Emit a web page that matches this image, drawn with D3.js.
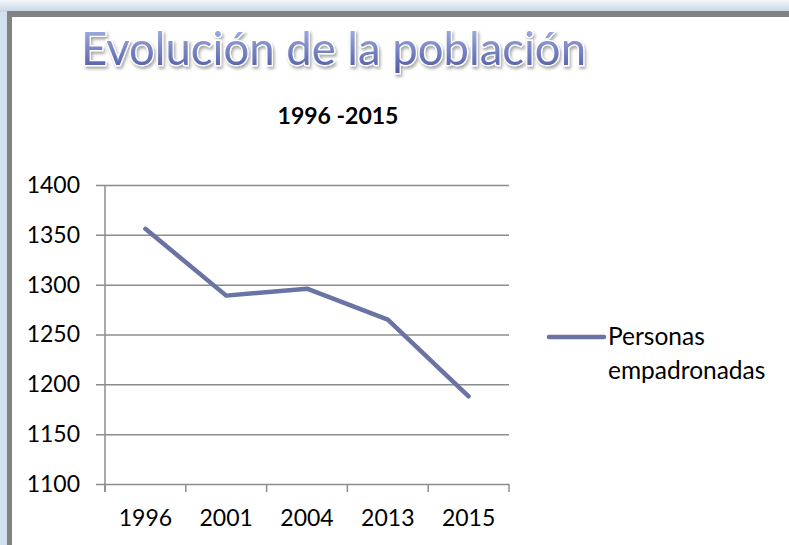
<!DOCTYPE html>
<html>
<head>
<meta charset="utf-8">
<script src="https://cdn.jsdelivr.net/npm/d3@7"></script>
<style>
  body { margin: 0; background: #fff; }
  svg { display: block; }
</style>
</head>
<body>
<div id="container"></div>
<script>
// data
var years = ["1996", "2001", "2004", "2013", "2015"];
var personas = [1356, 1289, 1296, 1265, 1188];
var yTicks = [1100, 1150, 1200, 1250, 1300, 1350, 1400];
var seriesName = ["Personas", "empadronadas"];

var width = 789, height = 545;
var plot = {left: 105, right: 509, top: 185, bottom: 484};
var lineColor = "#6973a4";
var gridColor = "#8c8c8c";
var font = "Lato, 'Open Sans', sans-serif";

var svg = d3.select("div#container")
  .append("svg")
  .attr("width", width)
  .attr("height", height);

var defs = svg.append("defs");

// background outside the frame
var bg = defs.append("linearGradient").attr("id", "bgGrad")
  .attr("x1", 0).attr("y1", 0).attr("x2", 0).attr("y2", 1);
bg.append("stop").attr("offset", "0%").attr("stop-color", "#f3f6f9");
bg.append("stop").attr("offset", "100%").attr("stop-color", "#c6d5e6");

svg.append("rect").attr("x", 0).attr("y", 0).attr("width", width).attr("height", 12)
  .attr("fill", "url(#bgGrad)");
svg.append("rect").attr("x", 0).attr("y", 12).attr("width", 7).attr("height", height - 12)
  .attr("fill", "#d3e0ee");

// frame
svg.append("rect").attr("x", 7).attr("y", 11).attr("width", width - 7).attr("height", 6)
  .attr("fill", "#828282");
svg.append("rect").attr("x", 7).attr("y", 11).attr("width", 5).attr("height", height - 11)
  .attr("fill", "#828282");

// title with gradient + glow
var tg = defs.append("linearGradient").attr("id", "titleGrad")
  .attr("x1", 0).attr("y1", 0).attr("x2", 0).attr("y2", 1);
tg.append("stop").attr("offset", "0%").attr("stop-color", "#b0bdec");
tg.append("stop").attr("offset", "100%").attr("stop-color", "#4a559f");

var sh = defs.append("filter").attr("id", "shadow")
  .attr("x", "-5%").attr("y", "-20%").attr("width", "110%").attr("height", "150%");
sh.append("feDropShadow").attr("dx", 1.5).attr("dy", 2.5).attr("stdDeviation", 1.5)
  .attr("flood-color", "#000").attr("flood-opacity", 0.35);

svg.append("text")
  .attr("x", 81).attr("y", 65)
  .attr("textLength", 505).attr("lengthAdjust", "spacingAndGlyphs")
  .style("font-family", font).style("font-size", "46px")
  .style("fill", "url(#titleGrad)")
  .style("stroke", "#fff").style("stroke-width", 2.5).style("paint-order", "stroke")
  .attr("filter", "url(#shadow)")
  .text("Evolución de la población");

// subtitle
svg.append("text")
  .attr("x", 338).attr("y", 124)
  .attr("text-anchor", "middle")
  .style("font-family", font).style("font-size", "23px").style("font-weight", "bold")
  .style("fill", "#000")
  .text("1996 -2015");

// scales
var x = d3.scaleBand().domain(years).range([plot.left, plot.right]).padding(0);
var y = d3.scaleLinear().domain([1100, 1400]).range([plot.bottom, plot.top]);

// gridlines + y ticks
var yAxis = svg.append("g")
  .attr("transform", "translate(" + plot.left + ",0)")
  .call(d3.axisLeft(y).tickValues(yTicks).tickSize(-(plot.right - plot.left)).tickSizeOuter(0).tickFormat(d3.format("d")));
yAxis.select(".domain").remove();
yAxis.selectAll(".tick line").attr("stroke", gridColor).attr("stroke-width", 1.5).attr("x1", -9);
yAxis.selectAll(".tick text")
  .attr("x", -25)
  .style("font-family", font).style("font-size", "23px").style("fill", "#000");

// x axis
var xAxis = svg.append("g")
  .attr("transform", "translate(0," + plot.bottom + ")")
  .call(d3.axisBottom(x).tickSize(0).tickSizeOuter(0));
xAxis.select(".domain").remove();
xAxis.selectAll(".tick text")
  .attr("y", 0).attr("dy", 42)
  .style("font-family", font).style("font-size", "23px").style("fill", "#000");

// category boundary ticks
var bounds = years.map(function(d) { return x(d); }).concat([plot.right]);
svg.append("g").selectAll("line").data(bounds).enter().append("line")
  .attr("x1", function(d) { return d; }).attr("x2", function(d) { return d; })
  .attr("y1", plot.bottom).attr("y2", plot.bottom + 8)
  .attr("stroke", gridColor).attr("stroke-width", 1.5);

// vertical axis line
svg.append("line")
  .attr("x1", plot.left).attr("x2", plot.left)
  .attr("y1", plot.top).attr("y2", plot.bottom + 8)
  .attr("stroke", gridColor).attr("stroke-width", 1.5);

// series line
var line = d3.line()
  .x(function(d, i) { return x(years[i]) + x.bandwidth() / 2; })
  .y(function(d) { return y(d); });

svg.append("path")
  .datum(personas)
  .attr("d", line)
  .attr("fill", "none")
  .attr("stroke", lineColor)
  .attr("stroke-width", 4.5)
  .attr("stroke-linecap", "round")
  .attr("stroke-linejoin", "round");

// legend
var legend = svg.append("g");
legend.append("line")
  .attr("x1", 549).attr("x2", 604).attr("y1", 337).attr("y2", 337)
  .attr("stroke", lineColor).attr("stroke-width", 4.5).attr("stroke-linecap", "round");
legend.append("text")
  .attr("x", 608).attr("y", 345)
  .style("font-family", font).style("font-size", "24.5px").style("fill", "#000")
  .selectAll("tspan").data(seriesName).enter().append("tspan")
  .attr("x", 608).attr("dy", function(d, i) { return i === 0 ? 0 : 34; })
  .text(function(d) { return d; });
</script>
</body>
</html>
